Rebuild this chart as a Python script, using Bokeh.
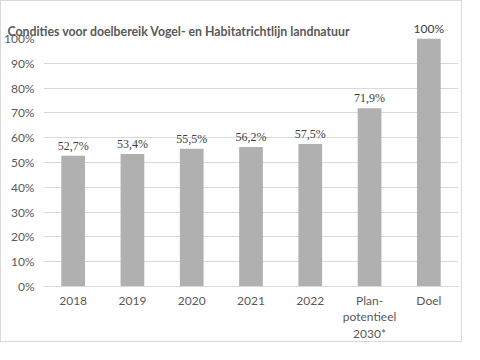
from bokeh.plotting import figure
from bokeh.models import (ColumnDataSource, NumeralTickFormatter, FixedTicker, Range1d,
                          LabelSet, Label, Title)
from bokeh.embed import file_html
from bokeh.resources import INLINE

categories = ["2018", "2019", "2020", "2021", "2022", "Plan-\npotentieel\n2030*", "Doel"]
values = [0.527, 0.534, 0.555, 0.562, 0.575, 0.719, 1.0]
labels = ["52,7%", "53,4%", "55,5%", "56,2%", "57,5%", "71,9%", "100%"]
y_ticks = [0, 0.1, 0.2, 0.3, 0.4, 0.5, 0.6, 0.7, 0.8, 0.9, 1.0]
title_text = "Condities voor doelbereik Vogel- en Habitatrichtlijn landnatuur"

FONT = "Lato"
Y_MAX = 1.0
src = ColumnDataSource(dict(cat=categories, val=values, lab=labels))
rows_in = [i for i, v in enumerate(values) if v < Y_MAX]
src_in = ColumnDataSource(dict(cat=[categories[i] for i in rows_in],
                               val=[values[i] for i in rows_in],
                               lab=[labels[i] for i in rows_in]))

p = figure(x_range=categories, y_range=Range1d(0, Y_MAX), width=462, height=342,
           output_backend="svg", toolbar_location=None, title=None,
           min_border_left=39, min_border_right=5, min_border_top=37, min_border_bottom=40)
p.styles = {"border": "1px solid #d9d9d9"}
p.outline_line_color = None

p.vbar(x="cat", top="val", width=0.4, source=src, fill_color="#b0b0b0", line_color=None)

# labels of bars below the top of the range (drawn inside the frame)
p.add_layout(LabelSet(x="cat", y="val", text="lab", source=src_in,
                      text_align="center", text_baseline="bottom", y_offset=3,
                      text_font=FONT, text_font_size="12px", text_color="#404040"))

p.yaxis.ticker = FixedTicker(ticks=y_ticks)
p.yaxis.formatter = NumeralTickFormatter(format="0%")
for ax in (p.xaxis, p.yaxis):
    ax.axis_line_color = None
    ax.major_tick_line_color = None
    ax.minor_tick_line_color = None
    ax.major_tick_out = 0
    ax.major_tick_in = 0
    ax.minor_tick_out = 0
    ax.major_label_text_font = FONT
    ax.major_label_text_font_size = "12px"
    ax.major_label_text_color = "#595959"
p.xaxis.axis_line_color = "#d9d9d9"
p.yaxis.major_label_standoff = 9
p.xaxis.major_label_standoff = 6
p.xaxis.major_label_text_line_height = 1.1
p.xgrid.grid_line_color = None
p.ygrid.grid_line_color = "#d9d9d9"

p.add_layout(Title(text=title_text, text_font=FONT, text_font_size="12.3px",
                   text_font_style="bold", text_color="#595959", offset=-36, standoff=0), "above")

# labels of bars reaching the top of the range: placed in the panel above the frame
# (a flat categorical range puts factor i at synthetic coordinate i + 0.5)
for i, (v, l) in enumerate(zip(values, labels)):
    if v >= Y_MAX:
        p.add_layout(Label(x=i + 0.5, y=v, text=l, text_align="center", text_baseline="bottom",
                           y_offset=3, text_font=FONT, text_font_size="12px",
                           text_color="#404040"), "above")

open("out.html", "w").write(file_html(p, INLINE))
